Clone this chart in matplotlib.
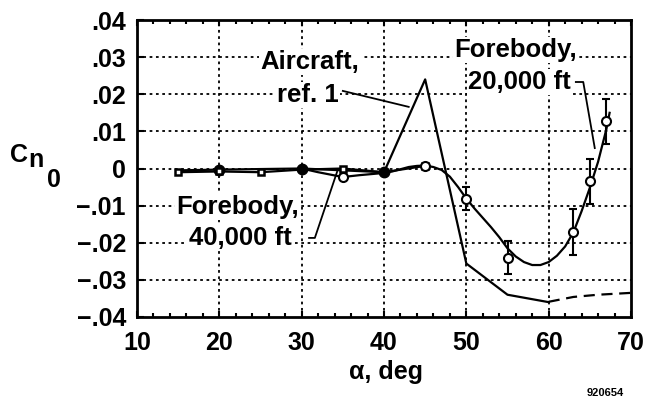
import numpy as np
import matplotlib
matplotlib.use("Agg")
import matplotlib.pyplot as plt
from matplotlib.ticker import MultipleLocator

plt.rcParams['font.family'] = ['Liberation Sans', 'DejaVu Sans']
plt.rcParams['font.weight'] = 'bold'

# Aircraft, ref. 1 (solid part and dashed extension)
aircraft_alpha = [15, 20, 30, 40, 45, 50, 55, 60]
aircraft_cn = [-0.0005, -0.0003, 0.0, -0.001, 0.024, -0.0256, -0.034, -0.036]
aircraft_pts_alpha = [20, 30, 40]
aircraft_pts_cn = [-0.0003, 0.0, -0.001]
aircraft_dash_alpha = [60, 63, 66, 70]
aircraft_dash_cn = [-0.0359, -0.0346, -0.034, -0.0335]

# Forebody, 40,000 ft (squares)
fb40_alpha = [15, 20, 25, 30, 35, 40, 45]
fb40_cn = [-0.001, -0.0008, -0.001, -0.0003, 0.0, -0.001, 0.0007]
fb40_sq_alpha = [15, 20, 25, 35, 45]
fb40_sq_cn = [-0.001, -0.0008, -0.001, 0.0, 0.0007]

# Forebody, 20,000 ft (circles with error bars) and faired curve
fb20_alpha = [35, 45, 50, 55, 63, 65, 67]
fb20_cn = [-0.0023, 0.0007, -0.0081, -0.024, -0.0172, -0.0035, 0.0127]
fb20_err = [0, 0, 0.003, 0.0044, 0.0062, 0.006, 0.006]
fair_alpha = [30, 32, 35, 37, 40, 41, 42, 43, 44, 45, 46, 47, 48, 49, 50, 51, 52, 53, 54, 55,
              56, 57, 58, 59, 60, 61, 62, 63, 64, 65, 66, 67, 67.4]
fair_cn = [0.0, -0.001, -0.0023, -0.0018, -0.0012, -0.0008, -0.0002, 0.0004, 0.0007, 0.0008,
           0.0004, -0.0004, -0.0022, -0.005, -0.0081, -0.0108, -0.0133, -0.0158, -0.0185, -0.0215,
           -0.0237, -0.0252, -0.026, -0.026, -0.0252, -0.0235, -0.021, -0.0172, -0.0115, -0.0052,
           0.0018, 0.0105, 0.015]

yticks = [-0.04, -0.03, -0.02, -0.01, 0, 0.01, 0.02, 0.03, 0.04]
ytick_labels = ["\u2212.04", "\u2212.03", "\u2212.02", "\u2212.01", "0", ".01", ".02", ".03", ".04"]
xticks = [10, 20, 30, 40, 50, 60, 70]

fig = plt.figure(figsize=(6.48, 4.0), dpi=100)
ax = fig.add_axes([137/648, 1-317/400, (631-137)/648, (317-20)/400])

ax.set_xlim(10, 70)
ax.set_ylim(-0.04, 0.04)
ax.set_xticks(xticks)
ax.xaxis.set_minor_locator(MultipleLocator(2))
ax.set_yticks(yticks)
ax.set_yticklabels(ytick_labels)
ax.tick_params(axis='x', which='both', direction='in', top=True, width=1.5, labelsize=18, pad=10)
ax.tick_params(axis='x', which='major', length=4)
ax.tick_params(axis='x', which='minor', length=3)
ax.tick_params(axis='y', direction='in', length=5, width=1.5, labelsize=18, pad=8)
for s in ax.spines.values():
    s.set_linewidth(2.0)

# dotted grid at the major ticks
grid_style = dict(color='black', linestyle=(0, (1.5, 2.0)), linewidth=1.3, zorder=1)
for x in xticks[1:-1]:
    ax.axvline(x, **grid_style)
for y in yticks[1:-1]:
    ax.axhline(y, **grid_style)

lw = 1.6
ax.plot(aircraft_alpha, aircraft_cn, color='black', lw=lw, zorder=3)
ax.plot(aircraft_dash_alpha, aircraft_dash_cn, color='black', lw=lw, linestyle=(0, (5, 3)), zorder=3)
ax.plot(aircraft_pts_alpha, aircraft_pts_cn, 'o', color='black', ms=7.5, zorder=4)
ax.plot(fb40_alpha, fb40_cn, color='black', lw=lw, zorder=3)
ax.plot(fb40_sq_alpha, fb40_sq_cn, 's', mfc='white', mec='black', mew=1.8, ms=5, zorder=5)
ax.plot(fair_alpha, fair_cn, color='black', lw=lw, zorder=3)
ax.errorbar(fb20_alpha, fb20_cn, yerr=fb20_err, fmt='o', mfc='white', mec='black', ecolor='black',
            mew=1.5, ms=6.5, elinewidth=1.5, capsize=3, capthick=1.5, zorder=5)

box = dict(facecolor='white', edgecolor='none', pad=1)
fs = 18.5
ax.text(31.0, 0.0287, "Aircraft,", ha='center', va='center', fontsize=fs, bbox=box, zorder=6)
ax.text(30.7, 0.0198, "ref. 1", ha='center', va='center', fontsize=fs, bbox=box, zorder=6)
ax.plot([35.0, 43.0], [0.0209, 0.0166], color='black', lw=1.3, zorder=6)

ax.text(56.0, 0.0319, "Forebody,", ha='center', va='center', fontsize=fs, bbox=box, zorder=6)
ax.text(56.5, 0.0233, "20,000 ft", ha='center', va='center', fontsize=fs, bbox=box, zorder=6)
ax.plot([63.3, 64.2, 65.6], [0.0233, 0.0233, 0.0055], color='black', lw=1.3, zorder=6)

ax.text(22.2, -0.0104, "Forebody,", ha='center', va='center', fontsize=fs, bbox=box, zorder=6)
ax.text(22.5, -0.0187, "40,000 ft", ha='center', va='center', fontsize=fs, bbox=box, zorder=6)
ax.plot([30.9, 31.6, 34.3], [-0.0187, -0.0187, -0.0009], color='black', lw=1.3, zorder=6)

# y label C_n0 built from pieces
fig.text(10/648, 1-162/400, "C", fontsize=18, ha='left', va='baseline')
fig.text(28/648, 1-167/400, "n", fontsize=18, ha='left', va='baseline')
fig.text(47/648, 1-187/400, "0", fontsize=18, ha='left', va='baseline')

fig.text(386/648, 1-372/400, "\u03b1, deg", fontsize=18, ha='center', va='center')
fig.text(605/648, 1-393/400, "920654", fontsize=8, ha='center', va='center')

fig.savefig("out.png", dpi=100)
